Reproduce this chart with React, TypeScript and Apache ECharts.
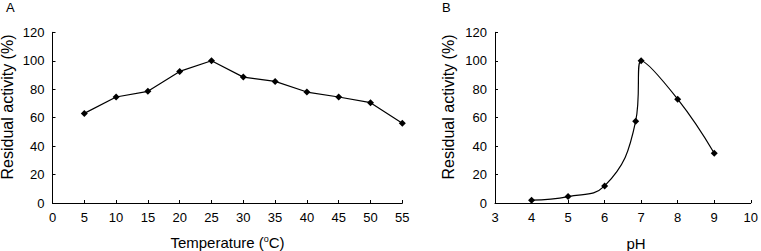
import React, { useEffect, useRef } from "react";
import * as echarts from "echarts";

const tempX = [5, 10, 15, 20, 25, 30, 35, 40, 45, 50, 55];
const tempY = [63, 74.5, 78.5, 92.5, 100, 88.5, 85.5, 78, 74.5, 70.5, 56];
const phX = [4, 5, 6, 6.85, 7, 8, 9];
const phY = [2, 4.5, 12, 57.5, 100, 73, 35];

const FONT = "'Liberation Sans', Arial, Helvetica, sans-serif";

function pairs(xs: number[], ys: number[]) {
  return xs.map((x, i) => [x, ys[i]]);
}

export default function App() {
  const ref = useRef<HTMLDivElement>(null);
  useEffect(() => {
    if (!ref.current) return;
    const chart = echarts.init(ref.current, undefined, { renderer: "svg", width: 761, height: 251 });
    const axisCommon = {
      type: "value" as const,
      axisLine: { show: true, lineStyle: { color: "#000", width: 1 } },
      axisTick: { show: true, inside: true, length: 3, lineStyle: { color: "#000" } },
      axisLabel: { color: "#000", fontSize: 13, fontFamily: FONT, margin: 8 },
      splitLine: { show: false },
    };
    const lineCommon = {
      type: "line" as const,
      symbol: "diamond",
      symbolSize: 7,
      itemStyle: { color: "#000" },
      lineStyle: { color: "#000", width: 1.2 },
    };
    chart.setOption({
      animation: false,
      backgroundColor: "#fff",
      grid: [
        { left: 52.5, top: 32.3, width: 349.8, height: 170.7 },
        { left: 495, top: 32.3, width: 259.3, height: 170.7 },
      ],
      xAxis: [
        { ...axisCommon, gridIndex: 0, min: 0, max: 55, interval: 5 },
        { ...axisCommon, gridIndex: 1, min: 3, max: 10, interval: 1 },
      ],
      yAxis: [
        { ...axisCommon, gridIndex: 0, min: 0, max: 120, interval: 20 },
        { ...axisCommon, gridIndex: 1, min: 0, max: 120, interval: 20 },
      ],
      series: [
        { ...lineCommon, xAxisIndex: 0, yAxisIndex: 0, data: pairs(tempX, tempY) },
        { ...lineCommon, xAxisIndex: 1, yAxisIndex: 1, smooth: 0.45, data: pairs(phX, phY) },
      ],
      graphic: [
        { type: "text", left: 6, top: 1, style: { text: "A", font: `13px ${FONT}`, fill: "#000" } },
        { type: "text", left: 442, top: 1, style: { text: "B", font: `13px ${FONT}`, fill: "#000" } },
        {
          type: "text", x: 7, y: 107, rotation: Math.PI / 2,
          style: { text: "Residual activity (%)", font: `16px ${FONT}`, fill: "#000", align: "center", verticalAlign: "middle" },
        },
        {
          type: "text", x: 448.5, y: 107, rotation: Math.PI / 2,
          style: { text: "Residual activity (%)", font: `16px ${FONT}`, fill: "#000", align: "center", verticalAlign: "middle" },
        },
        {
          type: "text", x: 227.5, y: 242,
          style: {
            text: "Temperature ({s|o}C)", font: `15px ${FONT}`, fill: "#000", align: "center", verticalAlign: "middle",
            rich: { s: { fontSize: 9, fontFamily: FONT, fill: "#000", verticalAlign: "top", padding: [0, 0, 6, 0] } },
          },
        },
        {
          type: "text", x: 636, y: 243,
          style: { text: "pH", font: `15px ${FONT}`, fill: "#000", align: "center", verticalAlign: "middle" },
        },
      ],
    });
    return () => chart.dispose();
  }, []);
  return <div ref={ref} style={{ position: "fixed", left: 0, top: 0, width: 761, height: 251 }} />;
}
